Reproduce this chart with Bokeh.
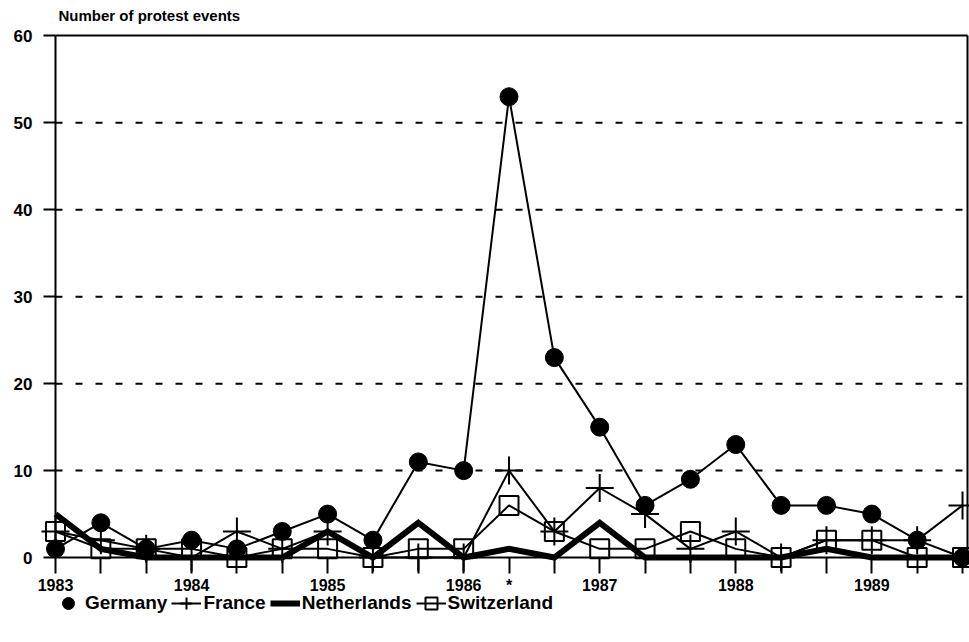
from bokeh.plotting import figure
from bokeh.models import Range1d, FixedTicker, Legend, LegendItem, LinearAxis
from bokeh.embed import file_html
from bokeh.resources import INLINE

# ---- data (one value every four months, 1983 - 1989) ----
periods = list(range(21))
tick_labels = {0: "1983", 3: "1984", 6: "1985", 9: "1986", 10: "*",
               12: "1987", 15: "1988", 18: "1989"}
germany = [1, 4, 1, 2, 1, 3, 5, 2, 11, 10, 53, 23, 15, 6, 9, 13, 6, 6, 5, 2, 0]
france = [3, 2, 1, 0, 3, 1, 3, 0, 0, 0, 10, 3, 8, 5, 1, 3, 0, 2, 2, 2, 6]
netherlands = [5, 1, 0, 0, 0, 0, 3, 0, 4, 0, 1, 0, 4, 0, 0, 0, 0, 1, 0, 0, 0]
switzerland = [3, 1, 1, 1, 0, 1, 1, 0, 1, 1, 6, 3, 1, 1, 3, 1, 0, 2, 2, 0, 0]
y_ticks = [0, 10, 20, 30, 40, 50, 60]
grid_ticks = [10, 20, 30, 40, 50]

FONT = "Liberation Sans"
FS = "16px"
X_END = 20.1   # right border of the plotting box
Y_TOP = 60     # top border of the plotting box

p = figure(width=969, height=642,
           x_range=Range1d(-1.2128, 20.154), y_range=Range1d(-9.77, 60.85),
           output_backend="svg", toolbar_location=None,
           min_border_left=0, min_border_right=0, min_border_top=28,
           min_border_bottom=0, background_fill_color="white",
           border_fill_color="white", outline_line_color=None)

# title
p.title.text = "Number of protest events"
p.title.text_font = FONT
p.title.text_font_size = "15px"
p.title.text_font_style = "bold"
p.title.text_color = "black"
p.title.align = "left"
p.title.offset = 58
p.title.standoff = 9

# x axis drawn at y = 0
xa = p.xaxis[0]
xa.fixed_location = 0
xa.bounds = (0, X_END)
xa.ticker = FixedTicker(ticks=periods)
xa.major_label_overrides = {i: "" for i in periods}
xa.major_label_overrides.update(tick_labels)
xa.axis_line_color = "black"
xa.axis_line_width = 2
xa.major_tick_in = 0
xa.major_tick_out = 16
xa.major_tick_line_width = 2
xa.major_tick_line_color = "black"
xa.minor_tick_line_color = None
xa.major_label_standoff = 3
xa.major_label_text_font = FONT
xa.major_label_text_font_size = FS
xa.major_label_text_font_style = "bold"
xa.major_label_text_color = "black"

# y axis drawn at x = 0
ya = p.yaxis[0]
ya.fixed_location = 0
ya.bounds = (0, Y_TOP)
ya.ticker = FixedTicker(ticks=y_ticks)
ya.axis_line_color = "black"
ya.axis_line_width = 2
ya.major_tick_in = 0
ya.major_tick_out = 12
ya.major_tick_line_width = 2
ya.major_tick_line_color = "black"
ya.minor_tick_line_color = None
ya.major_label_standoff = 11
ya.major_label_text_font = FONT
ya.major_label_text_font_size = "17px"
ya.major_label_text_font_style = "bold"
ya.major_label_text_color = "black"

# right border of the box
ra = LinearAxis(fixed_location=X_END, bounds=(0, Y_TOP), ticker=FixedTicker(ticks=[]),
                axis_line_color="black", axis_line_width=2,
                major_tick_line_color=None, minor_tick_line_color=None,
                major_label_text_font_size="0px")
p.add_layout(ra, "right")

# top border of the box
ta = LinearAxis(fixed_location=Y_TOP, bounds=(0, X_END), ticker=FixedTicker(ticks=[]),
                axis_line_color="black", axis_line_width=2,
                major_tick_line_color=None, minor_tick_line_color=None,
                major_label_text_font_size="0px")
p.add_layout(ta, "above")

p.xgrid.grid_line_color = None
p.ygrid.grid_line_color = None

# dashed reference lines inside the box
p.segment(x0=0, x1=X_END, y0=grid_ticks, y1=grid_ticks,
          line_color="black", line_width=2, line_dash="7 13")

# series
s_line = p.line(periods, switzerland, line_color="black", line_width=2)
s_sq = p.scatter(periods, switzerland, marker="square", size=19,
                 fill_color=None, line_color="black", line_width=2)
f_line = p.line(periods, france, line_color="black", line_width=2)
f_cross = p.scatter(periods, france, marker="cross", size=28,
                    line_color="black", line_width=2)
n_line = p.line(periods, netherlands, line_color="black", line_width=6,
                line_join="miter")
g_line = p.line(periods, germany, line_color="black", line_width=2)
g_dot = p.scatter(periods, germany, marker="circle", size=18,
                  fill_color="black", line_color="black")

legend = Legend(items=[
    LegendItem(label="Germany", renderers=[g_dot]),
    LegendItem(label="France", renderers=[f_line, f_cross]),
    LegendItem(label="Netherlands", renderers=[n_line]),
    LegendItem(label="Switzerland", renderers=[s_line, s_sq]),
], orientation="horizontal", location=(53, 24), margin=0, padding=0,
    spacing=4, glyph_width=30, glyph_height=30, label_standoff=2,
    label_text_font=FONT, label_text_font_size="19px", label_text_font_style="bold",
    label_text_color="black",
    border_line_color=None, background_fill_alpha=0)
p.add_layout(legend, "center")

open("out.html", "w").write(file_html(p, INLINE))
